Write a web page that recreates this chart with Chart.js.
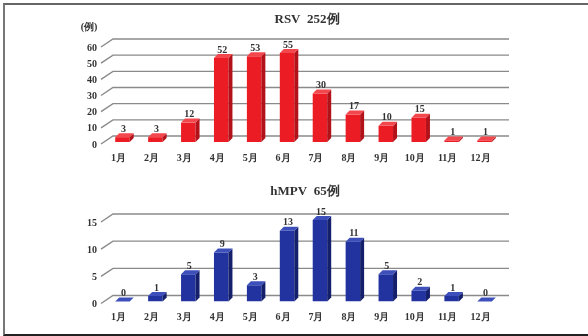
<!DOCTYPE html>
<html>
<head>
<meta charset="utf-8">
<script src="https://cdn.jsdelivr.net/npm/chart.js@4/dist/chart.umd.min.js"></script>
<style>
  html, body { margin: 0; padding: 0; background: #fff; }
  #wrap { position: relative; width: 588px; height: 336px; overflow: hidden; }
  #frame { position: absolute; left: 3px; top: 3px; width: 585px; height: 333px;
           border-left: 2px solid #777; border-top: 2px solid #666; border-bottom: 2px solid #222;
           box-sizing: border-box; }
  canvas { position: absolute; left: 0; }
  #c1 { top: 0; }
  #c2 { top: 165px; }
</style>
</head>
<body>
<div id="wrap">
  <div id="frame"></div>
  <canvas id="c1" width="588" height="165"></canvas>
  <canvas id="c2" width="588" height="171"></canvas>
</div>
<script>
// Monthly case counts
const months = ['1月', '2月', '3月', '4月', '5月', '6月', '7月', '8月', '9月', '10月', '11月', '12月'];
const rsvCounts = [3, 3, 12, 52, 53, 55, 30, 17, 10, 15, 1, 1];
const hmpvCounts = [0, 1, 5, 9, 3, 13, 15, 11, 5, 2, 1, 0];
const rsvAxis = { max: 60, step: 10 };
const hmpvAxis = { max: 15, step: 5 };
const rsvTitle = 'RSV  252例';
const hmpvTitle = 'hMPV  65例';
const unitLabel = '(例)';

const FONT = '"Liberation Serif", "Times New Roman", serif';
const TEXT = '#333333';

// Pseudo-3D look: back-wall grid lines and extruded bar faces
const depthPlugin = {
  id: 'depth3d',
  beforeDatasetsDraw(chart) {
    const { ctx, chartArea } = chart;
    const y = chart.scales.y;
    ctx.save();
    ctx.strokeStyle = '#8a8a8a';
    ctx.lineWidth = 1.4;
    y.ticks.forEach(t => {
      const py = y.getPixelForValue(t.value);
      ctx.beginPath();
      ctx.moveTo(chartArea.left - 5, py + 2);
      ctx.lineTo(chartArea.left + 7, py - 6);
      ctx.lineTo(chartArea.right + 8, py - 6);
      ctx.stroke();
    });
    ctx.restore();
  },
  afterDatasetsDraw(chart, args, opts) {
    const { ctx } = chart;
    const meta = chart.getDatasetMeta(0);
    const data = chart.data.datasets[0].data;
    const d = 4, dv = 4;
    ctx.save();
    meta.data.forEach((bar, i) => {
      const x0 = bar.x - bar.width / 2;
      const x1 = bar.x + bar.width / 2;
      const top = bar.y;
      const bottom = bar.base;
      // side face
      ctx.fillStyle = opts.side;
      ctx.beginPath();
      ctx.moveTo(x1, top);
      ctx.lineTo(x1 + d, top - dv);
      ctx.lineTo(x1 + d, bottom - dv);
      ctx.lineTo(x1, bottom);
      ctx.closePath();
      ctx.fill();
      // top face
      ctx.fillStyle = opts.top;
      ctx.beginPath();
      ctx.moveTo(x0, top);
      ctx.lineTo(x0 + d, top - dv);
      ctx.lineTo(x1 + d, top - dv);
      ctx.lineTo(x1, top);
      ctx.closePath();
      ctx.fill();
      // value label
      ctx.fillStyle = TEXT;
      ctx.font = 'bold 10px ' + FONT;
      ctx.textAlign = 'center';
      ctx.textBaseline = 'bottom';
      ctx.fillText(String(data[i]), bar.x + 1, top - 3);
    });
    ctx.restore();
  },
  afterDraw(chart, args, opts) {
    const { ctx } = chart;
    ctx.save();
    ctx.fillStyle = TEXT;
    ctx.textAlign = 'center';
    ctx.textBaseline = 'middle';
    ctx.font = 'bold 13px ' + FONT;
    ctx.fillText(opts.title, opts.titleX, opts.titleY);
    if (opts.unit) {
      ctx.font = 'bold 10px ' + FONT;
      ctx.fillText(opts.unit, opts.unitX, opts.unitY);
    }
    ctx.restore();
  }
};

function makeChart(canvasId, values, axis, colors, layoutPad, xHeight, deco) {
  return new Chart(document.getElementById(canvasId), {
    type: 'bar',
    data: {
      labels: months,
      datasets: [{
        data: values,
        backgroundColor: colors.front,
        borderWidth: 0,
        barPercentage: 0.44,
        categoryPercentage: 1.0
      }]
    },
    options: {
      responsive: false,
      animation: false,
      events: [],
      layout: { padding: layoutPad },
      plugins: {
        legend: { display: false },
        tooltip: { enabled: false },
        title: { display: false },
        depth3d: Object.assign({ side: colors.side, top: colors.top }, deco)
      },
      scales: {
        x: {
          grid: { display: false, drawTicks: false },
          border: { display: false },
          ticks: {
            color: TEXT,
            font: { family: FONT, size: 10, weight: 'bold' },
            padding: 10,
            labelOffset: -4,
            maxRotation: 0,
            autoSkip: false
          },
          afterFit(s) { s.height = xHeight; }
        },
        y: {
          min: 0,
          max: axis.max,
          grid: { display: false, drawTicks: false },
          border: { display: false },
          ticks: {
            stepSize: axis.step,
            color: TEXT,
            font: { family: FONT, size: 10, weight: 'bold' },
            padding: 9,
            labelOffset: 3
          },
          afterFit(s) { s.width = 60; }
        }
      }
    },
    plugins: [depthPlugin]
  });
}

makeChart('c1', rsvCounts, rsvAxis,
  { front: '#ec1c24', side: '#b3121a', top: '#f2474d' },
  { left: 46, right: 87, top: 45, bottom: 0 }, 23,
  { title: rsvTitle, titleX: 307, titleY: 20, unit: unitLabel, unitX: 89, unitY: 27 });

makeChart('c2', hmpvCounts, hmpvAxis,
  { front: '#2233a0', side: '#15206c', top: '#3d4fbb' },
  { left: 46, right: 87, top: 55, bottom: 11.5 }, 23,
  { title: hmpvTitle, titleX: 305, titleY: 27 });
</script>
</body>
</html>
